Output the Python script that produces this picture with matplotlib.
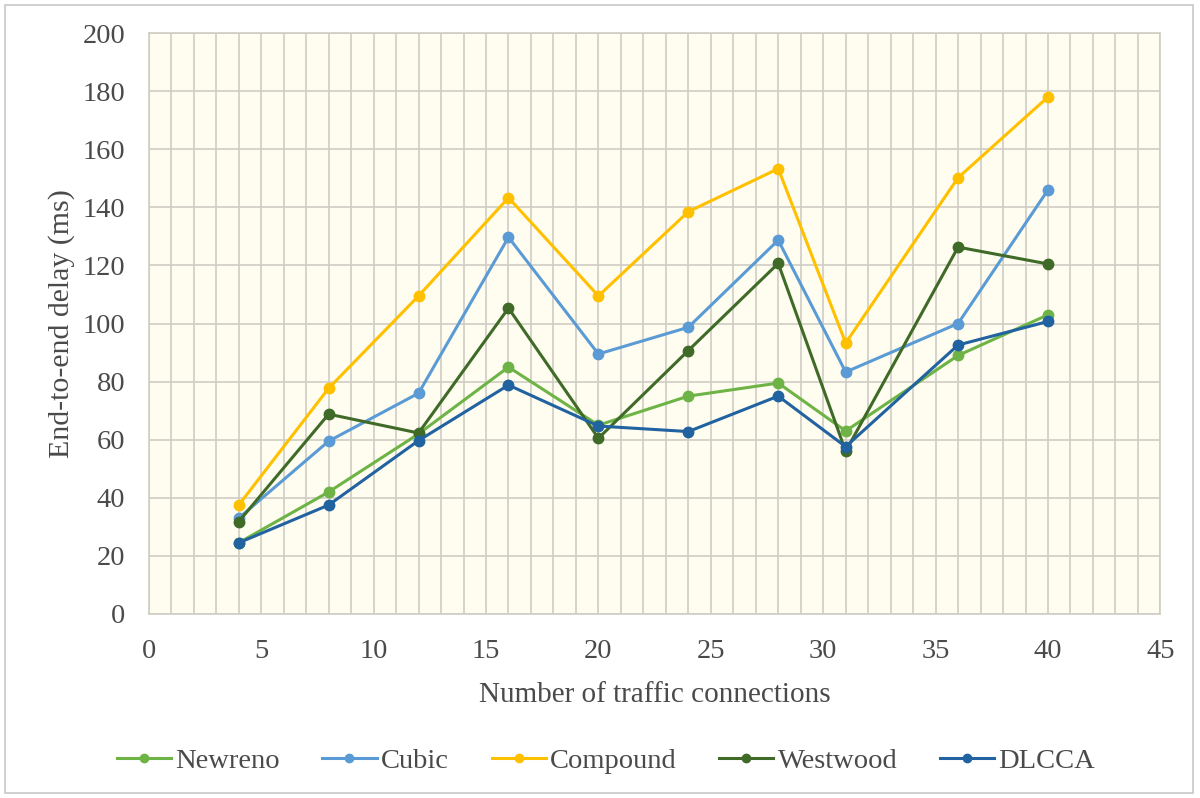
import matplotlib.pyplot as plt
from matplotlib.patches import Rectangle
from matplotlib.ticker import MultipleLocator

connections = [4, 8, 12, 16, 20, 24, 28, 31, 36, 40]
newreno = [24.5, 42, 62, 85, 65, 75, 79.5, 63, 89, 103]
cubic = [33, 59.5, 76, 129.7, 89.5, 98.7, 128.7, 83.3, 100, 146]
compound = [37.5, 77.7, 109.5, 143.3, 109.5, 138.5, 153.3, 93.3, 150.2, 178]
westwood = [31.8, 68.8, 62.3, 105.3, 60.5, 90.7, 120.7, 56, 126.3, 120.5]
dlcca = [24.5, 37.5, 59.7, 78.8, 64.7, 62.8, 75, 57.6, 92.6, 100.7]

series = [
    ("Newreno", newreno, "#6DB346"),
    ("Cubic", cubic, "#5B9BD5"),
    ("Compound", compound, "#FFC000"),
    ("Westwood", westwood, "#3F6A28"),
    ("DLCCA", dlcca, "#2162A0"),
]

plt.rcParams['font.family'] = ['Liberation Serif', 'DejaVu Serif']
txt = "#4A4A4A"
fs = 20.5

fig = plt.figure(figsize=(12, 7.98), dpi=100)
ax = fig.add_axes([0.124, 0.2306, 0.843, 0.728])
ax.set_facecolor("#FFFDF0")

for name, vals, col in series:
    ax.plot(connections, vals, color=col, lw=2.2, marker="o", ms=7.5, label=name)

ax.set_xlim(0, 45)
ax.set_ylim(0, 200)
ax.xaxis.set_major_locator(MultipleLocator(5))
ax.xaxis.set_minor_locator(MultipleLocator(1))
ax.yaxis.set_major_locator(MultipleLocator(20))
ax.grid(True, which="both", axis="x", color="#D0CEC4", lw=1.2)
ax.grid(True, which="major", axis="y", color="#D0CEC4", lw=1.2)
ax.set_axisbelow(True)
for s in ax.spines.values():
    s.set_color("#D0CEC4")
    s.set_linewidth(1.2)
ax.tick_params(which="both", length=0, labelsize=fs, labelcolor=txt)
ax.tick_params(axis="x", pad=18)
ax.tick_params(axis="y", pad=17)

ax.set_xlabel("Number of traffic connections", fontsize=21, color=txt, labelpad=13)
ax.set_ylabel("End-to-end delay (ms)", fontsize=21.5, color=txt, labelpad=5)

fig.legend(loc="center", bbox_to_anchor=(0.505, 0.046), ncol=5, frameon=False,
           fontsize=fs, labelcolor=txt, handlelength=1.9, columnspacing=1.5,
           handletextpad=0.15, markerscale=0.8)

# outer frame around the whole chart
fig.patches.append(Rectangle((5 / 1200, 5 / 798), 1188 / 1200, 788 / 798,
                             transform=fig.transFigure, fill=False,
                             edgecolor="#C8C8C8", lw=1.2))

fig.savefig("out.png", dpi=100)
